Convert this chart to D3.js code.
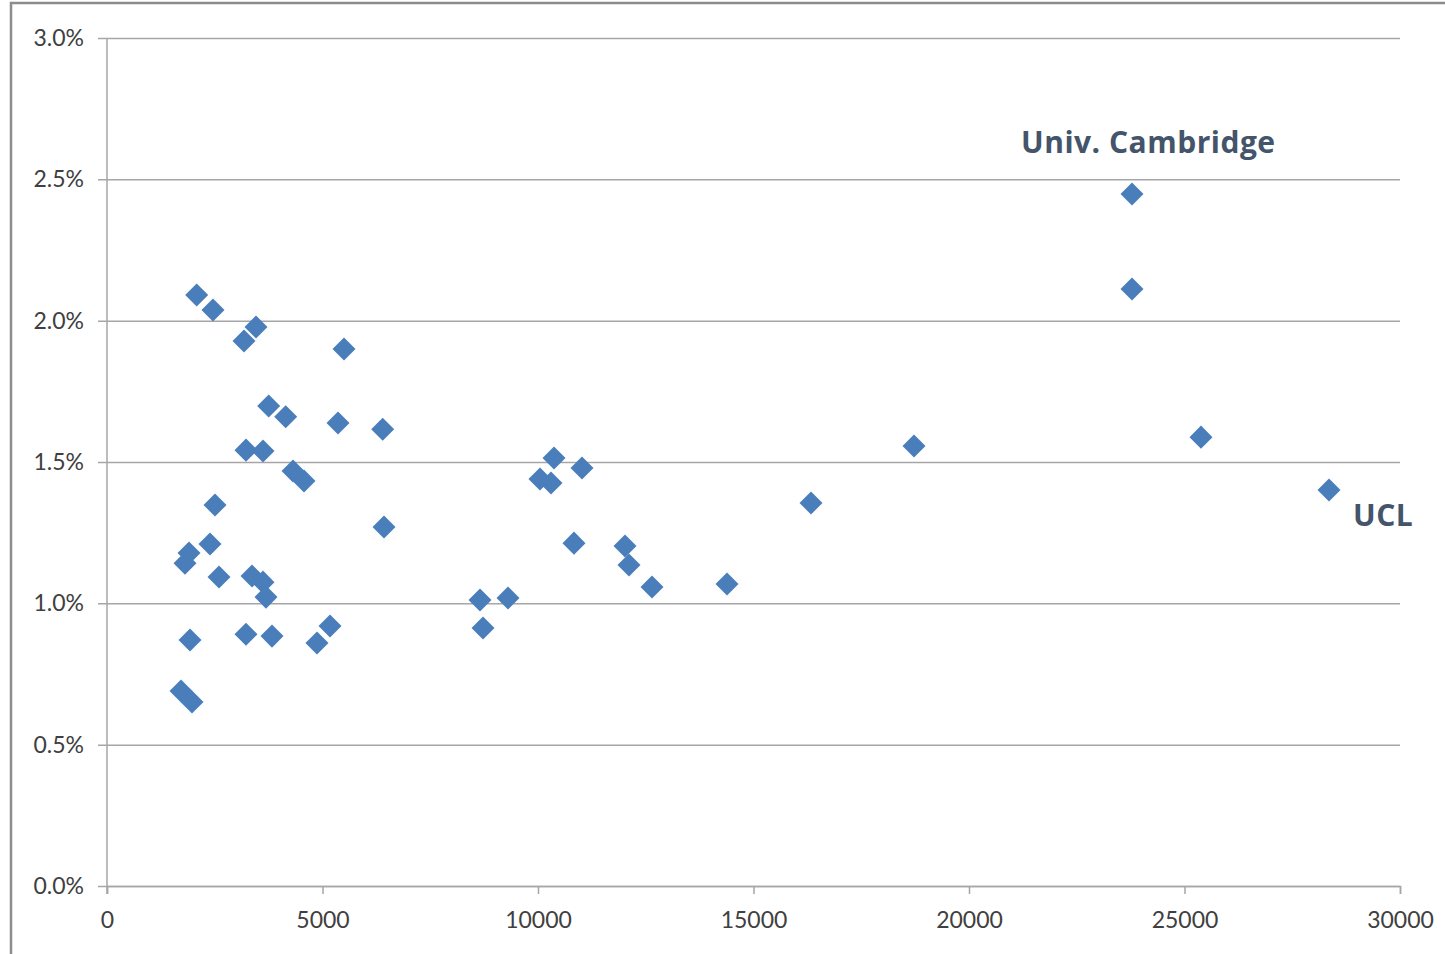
<!DOCTYPE html>
<html>
<head>
<meta charset="utf-8">
<script src="https://cdn.jsdelivr.net/npm/d3@7"></script>
<style>
  html, body { margin: 0; padding: 0; background: #fff; }
  svg { display: block; }
</style>
</head>
<body>
<svg id="chart" width="1445" height="954"></svg>
<script>
// Students (x) and share (y, fraction)
const students = [2081, 2459, 3457, 3179, 5499, 3752, 4146, 5360, 6397, 3225,
  3619, 4316, 4571, 2506, 6427, 2390, 1903, 1810, 2599, 3364,
  3619, 3689, 1926, 3225, 3828, 4872, 5174, 1717, 1972, 10046,
  10302, 10371, 11021, 10835, 12019, 12111, 12645, 8654, 8724, 9304,
  14385, 16334, 18724, 23782, 23782, 25383, 28353];
const shares = [2.091, 2.038, 1.978, 1.928, 1.900, 1.698, 1.660, 1.638, 1.616, 1.542,
  1.539, 1.468, 1.433, 1.348, 1.270, 1.210, 1.178, 1.142, 1.093, 1.097,
  1.075, 1.022, 0.870, 0.891, 0.884, 0.860, 0.920, 0.690, 0.651, 1.440,
  1.426, 1.514, 1.479, 1.213, 1.203, 1.136, 1.058, 1.012, 0.913, 1.019,
  1.068, 1.355, 1.557, 2.448, 2.112, 1.588, 1.401].map(v => v / 100);
const xTicks = [0, 5000, 10000, 15000, 20000, 25000, 30000];
const yTicks = [0, 0.005, 0.01, 0.015, 0.02, 0.025, 0.03];
const labels = [
  { text: "Univ. Cambridge", x: 23782, y: 0.02448, dx: -111, dy: -41 },
  { text: "UCL", x: 28353, y: 0.01401, dx: 24, dy: 36 }
];

const svg = d3.select("#chart");
const mLeft = 107, mRight = 1400, mTop = 38, mBottom = 886;
const x = d3.scaleLinear().domain([0, 30000]).range([mLeft, mRight]);
const y = d3.scaleLinear().domain([0, 0.03]).range([mBottom, mTop]);

// outer frame
svg.append("rect").attr("x", 11).attr("y", 3).attr("width", 1500).attr("height", 1000)
  .attr("fill", "none").attr("stroke", "#8c8c8c").attr("stroke-width", 2.5);

const font = "Lato, 'Open Sans', sans-serif";

// y axis with gridlines
const yAxis = d3.axisLeft(y).tickValues(yTicks).tickFormat(d3.format(".1%"))
  .tickSize(-(mRight - mLeft)).tickPadding(23);
const gy = svg.append("g").attr("transform", `translate(${mLeft},0)`).call(yAxis);
gy.select(".domain").remove();
gy.selectAll(".tick line").attr("stroke", "#a6a6a6").attr("stroke-width", 1.5).attr("x1", -9);
gy.selectAll(".tick text").attr("fill", "#404040").style("font-family", font).style("font-size", "23px");

// x axis
const xAxis = d3.axisBottom(x).tickValues(xTicks).tickFormat(d3.format("d"))
  .tickSize(8).tickPadding(18);
const gx = svg.append("g").attr("transform", `translate(0,${mBottom})`).call(xAxis);
gx.select(".domain").attr("stroke", "#a6a6a6").attr("stroke-width", 1.5);
gx.selectAll(".tick line").attr("stroke", "#a6a6a6").attr("stroke-width", 1.5);
gx.selectAll(".tick text").attr("fill", "#404040").style("font-family", font).style("font-size", "23px");

// vertical axis line
svg.append("line").attr("x1", mLeft).attr("x2", mLeft).attr("y1", mTop).attr("y2", mBottom + 8)
  .attr("stroke", "#a6a6a6").attr("stroke-width", 1.5);

// points
const sym = d3.symbol().type(d3.symbolSquare).size(265);
svg.append("g").selectAll("path").data(students.map((s, i) => [s, shares[i]]))
  .join("path")
  .attr("d", sym)
  .attr("transform", d => `translate(${x(d[0])},${y(d[1])}) rotate(45)`)
  .attr("fill", "#4a7ebb");

// annotations
svg.append("g").selectAll("text").data(labels).join("text")
  .attr("x", d => x(d.x) + d.dx)
  .attr("y", d => y(d.y) + d.dy)
  .attr("fill", "#44546a")
  .style("font-family", "'Open Sans', Lato, sans-serif")
  .style("font-weight", "bold")
  .style("font-size", "30px")
  .style("letter-spacing", "0.5px")
  .text(d => d.text);
</script>
</body>
</html>
